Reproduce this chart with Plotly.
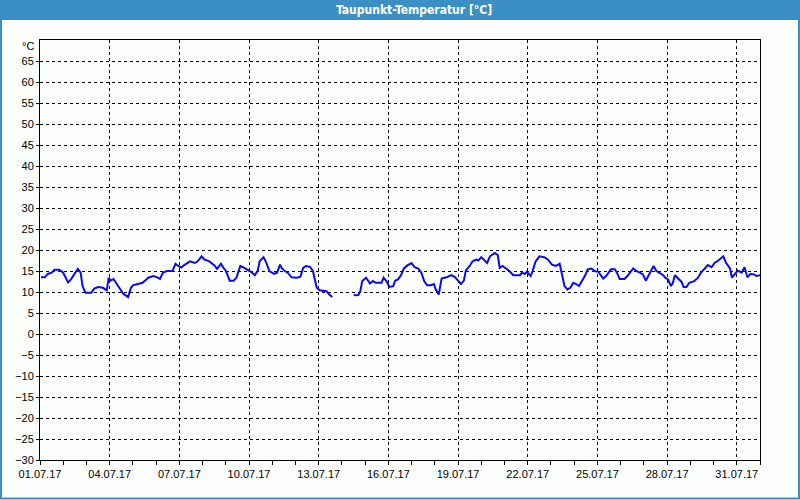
import pandas as pd
import plotly.graph_objects as go

# hours since 01.07.2017 00:00 and dew point values (°C); None marks the data gap
hours = [1, 5, 8, 12, 15, 20, 24, 29, 32, 37, 39, 42, 44, 47, 53, 56, 60, 65, 69, 71,
         73, 76, 81, 86, 91, 94, 96, 101, 106, 112, 117, 120, 124, 127, 131, 137, 140, 143,
         146, 149, 155, 160, 163, 167, 170, 175, 180, 183,
         187, 190, 192, 196, 200, 203, 207, 211, 216, 218, 222, 225, 227, 231, 234, 237, 242,
         245, 248, 250, 253, 256, 260, 265, 269, 272, 275, 279, 282, 284, 286, 289, 296, 299,
         302, 313,
         324, 329, 331, 333, 337, 341, 344, 347, 353, 355, 358, 361, 365, 367,
         370, 373, 376, 380, 384, 387, 391, 394, 397, 400, 404, 407, 409, 412, 415, 420, 425,
         429, 432, 435, 438, 440, 444, 447, 451, 453, 456, 460, 462, 465, 470, 473, 475, 478,
         482, 485, 489, 496, 498, 501, 503, 507, 509, 512, 516, 521, 525, 529, 533, 537, 539,
         542, 545, 548, 551, 554, 557,
         559, 563, 566, 570, 573, 577, 582, 585, 590, 594, 597, 599, 604, 607, 613, 616, 620,
         623, 626, 630, 634, 637, 640, 644, 646, 649, 652, 654, 656, 659, 663, 665, 668, 671,
         676, 680, 683, 687, 690, 694, 697, 701, 706, 709, 713, 715, 718, 721, 725, 728, 731,
         734, 738, 740, 744]
dewpoint = [13.5, 13.5, 14.3, 14.6, 15.3, 15.3, 14.6, 12.3, 13.0, 14.6, 15.5, 14.6, 11.4, 9.8,
            9.8, 10.8, 11.2, 11.0, 10.4, 13.4, 12.7, 13.1, 11.2, 9.6, 8.8, 11.0, 11.6, 11.9,
            12.2, 13.4, 13.8, 13.6, 13.1, 14.6, 15.0, 15.0, 16.7, 16.2, 15.8, 16.4, 17.3, 16.9,
            17.3, 18.5, 17.7, 17.3, 16.4, 15.5,
            16.7, 15.6, 15.1, 12.7, 12.7, 13.4, 16.2, 15.75, 15.1, 14.8, 14.0, 15.1, 17.3, 18.3,
            16.9, 15.0, 14.3, 14.6, 16.5, 15.6, 15.0, 14.6, 13.5, 13.4, 13.6, 15.75, 16.2, 16.0,
            15.0, 13.0, 11.0, 10.4, 10.2, 9.4,
            8.8, None,
            9.2, 9.3, 10.2, 12.6, 13.4, 12.0, 12.6, 12.2, 12.2, 13.4, 12.6, 11.2, 11.4, 12.7,
            13.0, 14.0, 15.6, 16.4, 16.9, 15.9, 15.6, 14.6, 12.6, 11.6, 11.6, 11.9, 10.6, 9.4,
            13.2, 13.5, 14.0, 13.5, 12.7, 11.9, 12.7, 15.1, 16.2, 17.3, 17.7, 17.5, 18.3, 17.3,
            16.9, 18.5, 19.3, 18.8, 15.75, 16.2, 15.6, 15.0, 14.0, 14.0, 14.6, 14.3, 14.8, 13.8,
            15.0, 17.2, 18.5, 18.3, 17.7, 16.5, 16.2, 16.7, 14.6, 11.4, 10.6, 11.0, 12.2, 11.9,
            11.4,
            12.2, 13.8, 15.4, 15.6, 15.0, 14.8, 13.2, 13.8, 15.4, 15.4, 14.2, 13.1, 13.1, 13.8,
            15.6, 15.0, 14.6, 14.2, 12.7, 14.3, 16.2, 15.0, 14.6, 14.0, 13.4, 13.0, 11.4, 12.2,
            14.0, 13.4, 12.4, 11.2, 11.2, 12.2, 12.6, 13.4, 14.6, 15.6, 16.4, 15.9, 16.9, 17.5,
            18.5, 16.9, 15.6, 13.4, 14.2, 15.1, 14.6, 15.9, 13.5, 14.3, 14.2, 13.8, 14.0]

y_ticks = list(range(-30, 70, 5))
x_tick_dates = ["2017-07-%02d" % d for d in range(1, 32, 3)]
x_tick_labels = ["%02d.07.17" % d for d in range(1, 32, 3)]
title_text = "Taupunkt-Temperatur [°C]"
unit_text = "°C"

start = pd.Timestamp("2017-07-01 00:00")
times = [start + pd.Timedelta(hours=h) for h in hours]

fig = go.Figure()
fig.add_trace(go.Scatter(x=times, y=dewpoint, mode="lines",
                         line=dict(color="#0a0aea", width=2),
                         connectgaps=False, hoverinfo="skip"))

tickfont = dict(family="Liberation Sans, Arial, sans-serif", size=11, color="#000000")

fig.update_xaxes(range=[start, pd.Timestamp("2017-08-01 00:00")],
                 tickmode="array", tickvals=x_tick_dates, ticktext=x_tick_labels,
                 ticks="outside", ticklen=4, tickcolor="black", tickwidth=1,
                 showline=True, linecolor="black", linewidth=1, mirror=True,
                 showgrid=True, gridcolor="black", gridwidth=1, griddash="3px,3px",
                 zeroline=False, tickfont=tickfont,
                 minor=dict(dtick=86400000, ticks="outside", ticklen=4,
                            tickcolor="black", showgrid=False))
fig.update_yaxes(range=[-30, 70], tickmode="array", tickvals=y_ticks,
                 ticks="outside", ticklen=3, tickcolor="black", tickwidth=1,
                 showline=True, linecolor="black", linewidth=1, mirror=True,
                 showgrid=True, gridcolor="black", gridwidth=1, griddash="3px,3px",
                 zeroline=False, tickfont=tickfont)

W, H = 720.0, 420.0  # plot area size in px (margins 40 all round)
blue = "#3c8fc4"

fig.update_layout(
    width=800, height=500,
    margin=dict(l=40, r=40, t=40, b=40),
    paper_bgcolor="#fcfefc", plot_bgcolor="#fcfefc",
    showlegend=False,
    shapes=[
        # title bar: pixels y 0..20
        dict(type="rect", xref="paper", yref="paper",
             x0=-40 / W, x1=760 / W, y0=(H + 20) / H, y1=(H + 40) / H,
             fillcolor=blue, line=dict(width=0), layer="above"),
        # window border left / right / bottom
        dict(type="line", xref="paper", yref="paper", x0=-39 / W, x1=-39 / W,
             y0=-39 / H, y1=(H + 20) / H, line=dict(color=blue, width=2)),
        dict(type="line", xref="paper", yref="paper", x0=759 / W, x1=759 / W,
             y0=-39 / H, y1=(H + 20) / H, line=dict(color=blue, width=2)),
        dict(type="line", xref="paper", yref="paper", x0=-40 / W, x1=760 / W,
             y0=-38.5 / H, y1=-38.5 / H, line=dict(color=blue, width=2)),
    ],
    annotations=[
        dict(text="<b>" + title_text + "</b>", xref="paper", yref="paper",
             x=(414 - 40) / W, y=(H + 30) / H, xanchor="center", yanchor="middle",
             showarrow=False,
             font=dict(family="DejaVu Sans Condensed, Liberation Sans Narrow, sans-serif",
                       size=12, color="white")),
        dict(text=unit_text, xref="paper", yref="paper",
             x=-4 / W, y=(H - 6) / H, xanchor="right", yanchor="middle",
             showarrow=False, font=tickfont),
    ],
)

fig.write_html("out.html", config={"displayModeBar": False, "staticPlot": True},
               post_script="document.body.style.margin='0';document.body.style.overflow='hidden';")
